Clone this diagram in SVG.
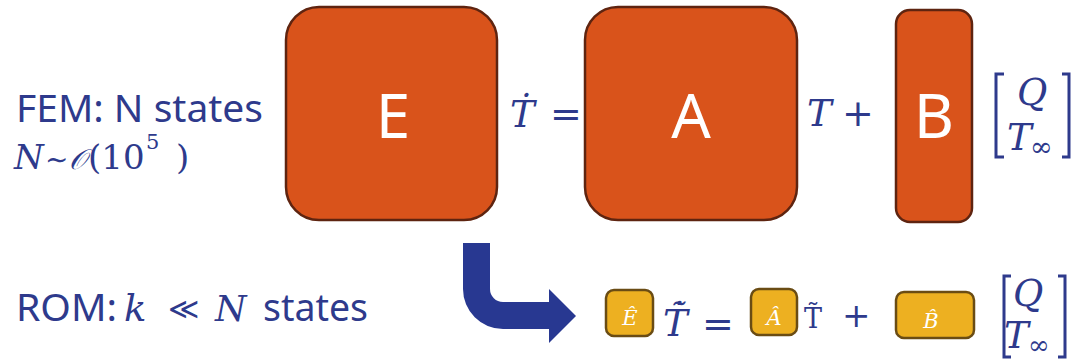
<svg xmlns="http://www.w3.org/2000/svg" width="1071" height="359" viewBox="0 0 1071 359">
<style>
.big{fill:#D9531B;stroke:#5E2410;stroke-width:2.5}
.small{fill:#EDB021;stroke:#6A4C14;stroke-width:2.5}
.lbl{font-family:"Noto Sans","Open Sans",sans-serif;fill:#FFFFFF;text-anchor:middle}
.sans{font-family:"Noto Sans","Open Sans",sans-serif;fill:#2E3A8C}
.m{font-family:"DejaVu Serif","Liberation Serif",serif;font-style:italic;fill:#2E3A8C}
.r{font-family:"DejaVu Serif","Liberation Serif",serif;font-style:normal;fill:#2E3A8C}
.mw{font-family:"DejaVu Serif","Liberation Serif",serif;font-style:italic;fill:#FFFFFF;text-anchor:middle}
.br{fill:none;stroke:#2E3A8C;stroke-width:3}
</style>
<rect width="1071" height="359" fill="#FFFFFF"/>

<g id="fem-label">
<text class="sans" x="16" y="122" font-size="39" textLength="247" lengthAdjust="spacingAndGlyphs">FEM: N states</text>
<text class="m" x="14" y="169" font-size="34">N<tspan class="r" x="45" font-size="28">∼</tspan><tspan x="69" font-size="28">𝒪</tspan><tspan class="r" x="88" font-size="34">(10</tspan><tspan class="r" x="146" y="149" font-size="21">5</tspan><tspan class="r" x="176" y="169" font-size="34">)</tspan></text>
</g>

<g id="node-E">
<rect class="big" x="286" y="7" width="211" height="213" rx="33"/>
<text class="lbl" x="393" y="138" font-size="62">E</text>
</g>

<g id="eq-top-1">
<text class="m" x="510" y="127" font-size="37">Ṫ<tspan class="r" x="550" font-size="38">=</tspan></text>
</g>

<g id="node-A">
<rect class="big" x="585" y="7" width="212" height="213" rx="33"/>
<text class="lbl" x="691" y="138" font-size="62">A</text>
</g>

<g id="eq-top-2">
<text class="m" x="807" y="126" font-size="37">T<tspan class="r" x="842" font-size="38">+</tspan></text>
</g>

<g id="node-B">
<rect class="big" x="896" y="10" width="76" height="212" rx="14"/>
<text class="lbl" x="934" y="138" font-size="62">B</text>
</g>

<g id="vec-top">
<polyline class="br" points="1004,74 996,74 996,157 1004,157"/>
<text class="m" x="1017" y="105" font-size="37">Q</text>
<text class="m" x="1007" y="150" font-size="37">T<tspan class="r" x="1030" y="156" font-size="27">∞</tspan></text>
<polyline class="br" points="1062,74 1069,74 1069,157 1062,157"/>
</g>

<g id="rom-label">
<text class="sans" x="16" y="321" font-size="39" textLength="101" lengthAdjust="spacingAndGlyphs">ROM:</text>
<text class="m" x="124" y="321" font-size="37">k<tspan class="r" x="168" y="319" font-size="30">≪</tspan><tspan x="215" y="321" font-size="36">N</tspan></text>
<text class="sans" x="263" y="321" font-size="39" textLength="105" lengthAdjust="spacingAndGlyphs">states</text>
</g>

<g id="connectors">
<path fill="#283891" d="M463,243 L490,243 L490,289 A13,13 0 0 0 503,302 L549,302 L549,289 L576,316 L549,343 L549,329 L503,329 A40,40 0 0 1 463,289 Z"/>
</g>

<g id="node-Ehat">
<rect class="small" x="606" y="290" width="47" height="46" rx="8"/>
<text class="mw" x="630" y="325" font-size="21">Ê</text>
</g>

<g id="eq-bot-1">
<text class="m" x="663" y="336" font-size="37">T̃̇<tspan class="r" x="702" y="337" font-size="38">=</tspan></text>
</g>

<g id="node-Ahat">
<rect class="small" x="751" y="289" width="46" height="46" rx="8"/>
<text class="mw" x="774" y="325" font-size="21">Â</text>
</g>

<g id="eq-bot-2">
<text class="r" x="804" y="328" font-size="27">T̃<tspan x="842" y="327" font-size="34">+</tspan></text>
</g>

<g id="node-Bhat">
<rect class="small" x="896" y="292" width="78" height="46" rx="8"/>
<text class="mw" x="931" y="328" font-size="21">B̂</text>
</g>

<g id="vec-bot">
<polyline class="br" points="1011,276 1004,276 1004,357 1011,357"/>
<text class="m" x="1013" y="306" font-size="37">Q</text>
<text class="m" x="1004" y="348" font-size="37">T<tspan class="r" x="1028" y="354" font-size="26">∞</tspan></text>
<polyline class="br" points="1058,276 1065,276 1065,357 1058,357"/>
</g>
</svg>
